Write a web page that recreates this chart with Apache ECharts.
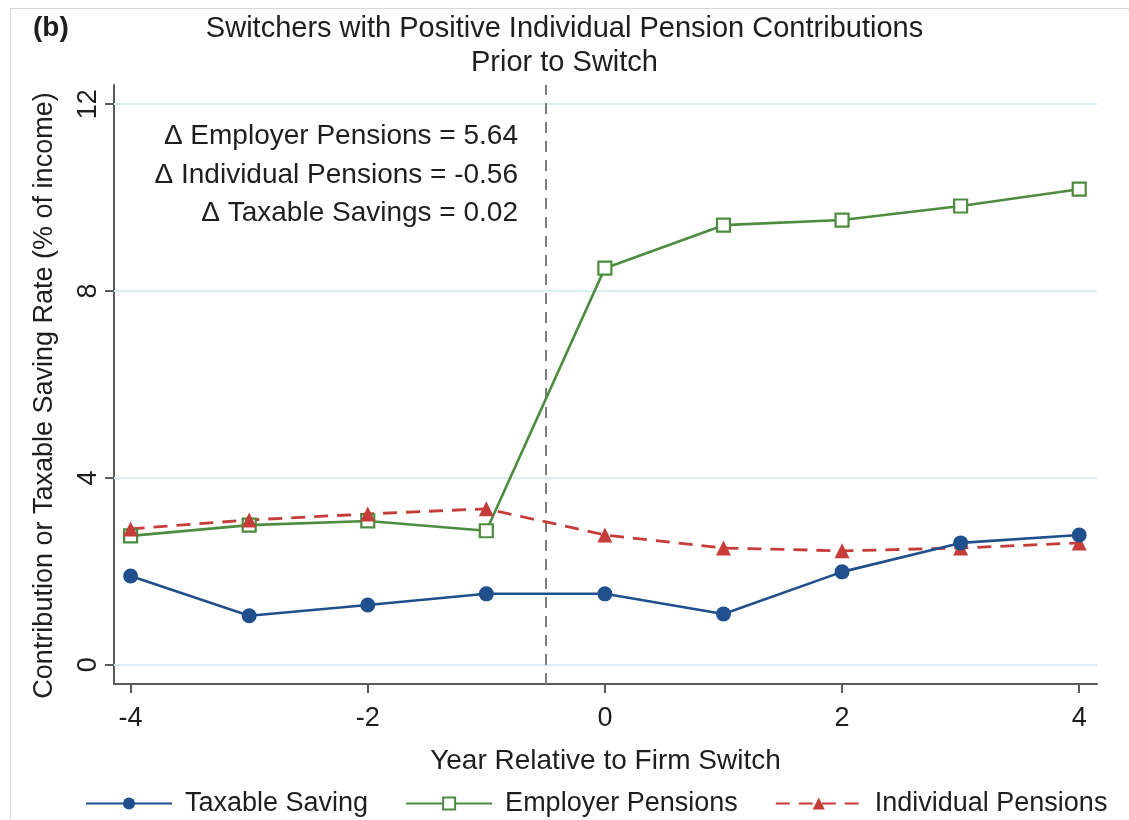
<!DOCTYPE html>
<html>
<head>
<meta charset="utf-8">
<script src="https://cdn.jsdelivr.net/npm/echarts@6/dist/echarts.min.js"></script>
<style>
  html, body { margin: 0; padding: 0; background: #ffffff; }
  #chart { width: 1129px; height: 820px; }
</style>
</head>
<body>
<div id="chart"></div>
<script>
// Years relative to the firm switch
const years = [-4, -3, -2, -1, 0, 1, 2, 3, 4];

// Rates as % of income
const taxableSaving      = [1.90, 1.05, 1.28, 1.52, 1.52, 1.09, 1.99, 2.61, 2.78];
const employerPensions   = [2.76, 2.99, 3.08, 2.87, 8.49, 9.41, 9.52, 9.82, 10.18];
const individualPensions = [2.91, 3.10, 3.23, 3.34, 2.78, 2.50, 2.44, 2.50, 2.61];

// Axis ticks
const xTicks = [-4, -2, 0, 2, 4];
const yTicks = [0, 4, 8, 12];

// Switch marker and estimated effects
const switchAt = -0.5;
const effectLines = [
  '\u0394 Employer Pensions = 5.64',
  '\u0394 Individual Pensions = -0.56',
  '\u0394 Taxable Savings = 0.02'
];

const FONT = '"Liberation Sans", Arial, Helvetica, sans-serif';
const TXT = '#1e1e1e';
const BLUE = '#1f4f8c';
const GREEN = '#4c8c3e';
const RED = '#c63c38';

const pairs = arr => years.map((y, i) => [y, arr[i]]);

const chart = echarts.init(document.getElementById('chart'), null, { renderer: 'canvas' });

chart.setOption({
  animation: false,
  backgroundColor: '#ffffff',
  textStyle: { fontFamily: FONT },
  grid: { left: 114, right: 32, top: 85, bottom: 136, containLabel: false },
  xAxis: {
    type: 'value',
    min: -4.14,
    max: 4.15,
    name: 'Year Relative to Firm Switch',
    nameLocation: 'middle',
    nameGap: 63,
    nameTextStyle: { fontFamily: FONT, fontSize: 28, color: TXT },
    axisLine: { show: true, onZero: false, lineStyle: { color: '#5a5a5a', width: 2 } },
    axisTick: { show: true, length: 9, customValues: xTicks, lineStyle: { color: '#5a5a5a', width: 2 } },
    axisLabel: { customValues: xTicks, fontFamily: FONT, fontSize: 27, color: TXT, margin: 21 },
    splitLine: { show: false }
  },
  yAxis: {
    type: 'value',
    min: -0.41,
    max: 12.41,
    name: 'Contribution or Taxable Saving Rate (% of income)',
    nameLocation: 'middle',
    nameGap: 56,
    nameTextStyle: { fontFamily: FONT, fontSize: 27, color: TXT, padding: [0, 22, 0, 0] },
    axisLine: { show: true, onZero: false, lineStyle: { color: '#5a5a5a', width: 2 } },
    axisTick: { show: true, length: 9, customValues: yTicks, lineStyle: { color: '#5a5a5a', width: 2 } },
    axisLabel: { customValues: yTicks, rotate: 90, fontFamily: FONT, fontSize: 27, color: TXT, margin: 12 },
    splitLine: { show: false }
  },
  legend: {
    top: 785,
    left: 80,
    itemWidth: 86,
    itemHeight: 15,
    itemGap: 37,
    textStyle: { fontFamily: FONT, fontSize: 27, color: TXT, padding: [0, 0, 0, 8] },
    data: ['Taxable Saving', 'Employer Pensions', 'Individual Pensions']
  },
  graphic: [
    // outer frame edges
    { type: 'line', shape: { x1: 10.5, y1: 8, x2: 10.5, y2: 820 }, style: { stroke: '#d8d8d8', lineWidth: 1 }, silent: true },
    { type: 'line', shape: { x1: 10, y1: 8.5, x2: 1129, y2: 8.5 }, style: { stroke: '#d8d8d8', lineWidth: 1 }, silent: true },
    { type: 'text', left: 33, top: 14, style: { text: '(b)', font: 'bold 28px ' + FONT, fill: TXT } },
    { type: 'text', left: 'center', top: 14, style: { text: 'Switchers with Positive Individual Pension Contributions', font: '29px ' + FONT, fill: TXT, textAlign: 'center' } },
    { type: 'text', left: 'center', top: 48, style: { text: 'Prior to Switch', font: '29px ' + FONT, fill: TXT, textAlign: 'center' } },
    { type: 'text', x: 518, y: 136, style: { text: effectLines[0], font: '28px ' + FONT, fill: TXT, textAlign: 'right', textVerticalAlign: 'middle' } },
    { type: 'text', x: 518, y: 175, style: { text: effectLines[1], font: '28px ' + FONT, fill: TXT, textAlign: 'right', textVerticalAlign: 'middle' } },
    { type: 'text', x: 518, y: 213, style: { text: effectLines[2], font: '28px ' + FONT, fill: TXT, textAlign: 'right', textVerticalAlign: 'middle' } }
  ],
  series: [
    {
      // reference lines: horizontal grid at tick values and the switch marker
      name: 'ref',
      type: 'line',
      data: [],
      silent: true,
      markLine: {
        silent: true,
        symbol: 'none',
        label: { show: false },
        z: 1,
        data: [
          ...yTicks.map(v => ({ yAxis: v, lineStyle: { color: '#dcedf3', width: 2, type: 'solid' } })),
          { xAxis: switchAt, lineStyle: { color: '#7c7c7c', width: 2, type: [11, 8] } }
        ]
      }
    },
    {
      name: 'Taxable Saving',
      type: 'line',
      data: pairs(taxableSaving),
      symbol: 'circle',
      symbolSize: 15,
      z: 4,
      lineStyle: { color: BLUE, width: 2.6 },
      itemStyle: { color: BLUE }
    },
    {
      name: 'Employer Pensions',
      type: 'line',
      data: pairs(employerPensions),
      symbol: 'rect',
      symbolSize: 13,
      z: 3,
      lineStyle: { color: GREEN, width: 2.6 },
      itemStyle: { color: '#ffffff', borderColor: GREEN, borderWidth: 2.2 }
    },
    {
      name: 'Individual Pensions',
      type: 'line',
      data: pairs(individualPensions),
      symbol: 'triangle',
      symbolSize: 15,
      z: 3,
      lineStyle: { color: RED, width: 2.8, type: [14, 9] },
      itemStyle: { color: RED }
    }
  ]
});
</script>
</body>
</html>
